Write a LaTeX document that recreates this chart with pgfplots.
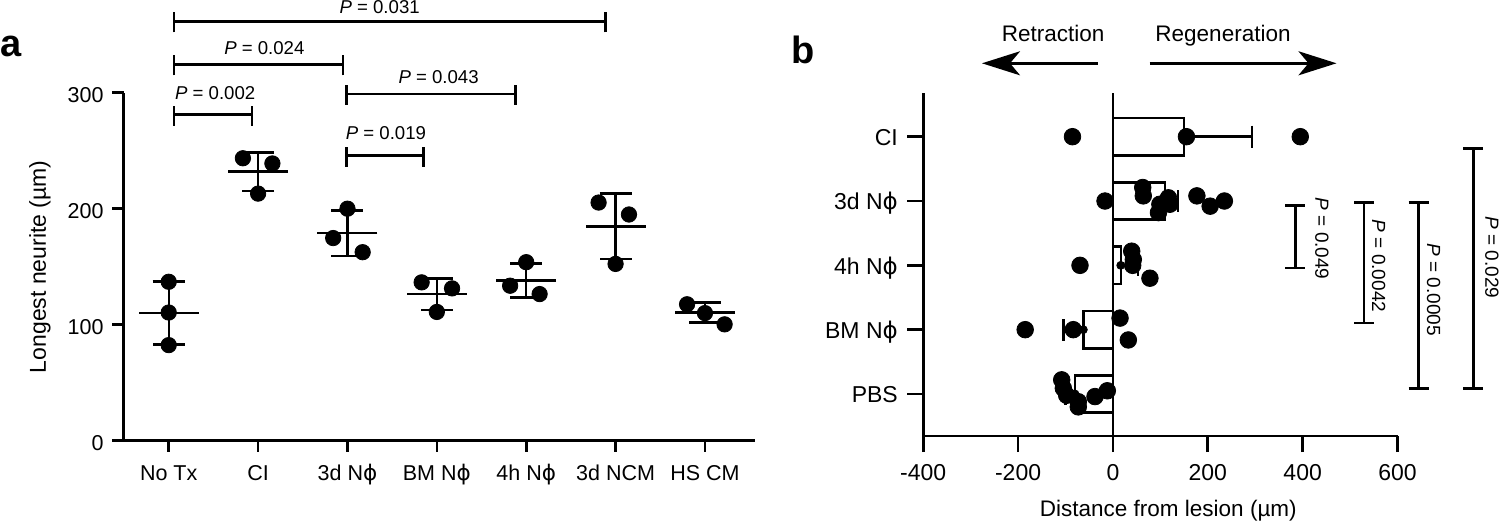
\documentclass[border=0pt]{standalone}
\usepackage{fontspec}
\setmainfont{Liberation Sans}
\newfontfamily\dejavu{DejaVu Sans}
\usepackage{pgfplots}
\pgfplotsset{compat=1.18}
\usetikzlibrary{arrows.meta}
\newcommand{\Nphi}{N{\dejavu ϕ}}
\newcommand{\hbr}[3]{%
  \draw[line width=1.3bp] (axis cs:#1,#3) -- (axis cs:#2,#3);
  \draw[line width=1.3bp] ([yshift=-5.5bp]axis cs:#1,#3) -- ([yshift=4.5bp]axis cs:#1,#3);
  \draw[line width=1.3bp] ([yshift=-5.5bp]axis cs:#2,#3) -- ([yshift=4.5bp]axis cs:#2,#3);}
\newcommand{\vbr}[3]{%
  \draw[line width=1.3bp] (axis cs:#1,#2) -- (axis cs:#1,#3);
  \draw[line width=1.3bp] ([xshift=-5bp]axis cs:#1,#2) -- ([xshift=5bp]axis cs:#1,#2);
  \draw[line width=1.3bp] ([xshift=-5bp]axis cs:#1,#3) -- ([xshift=5bp]axis cs:#1,#3);}
\begin{document}
\begin{tikzpicture}
\path[use as bounding box] (0,0) rectangle (750bp,261bp);
\node[anchor=base west, inner sep=0pt, font=\fontsize{19bp}{21bp}\selectfont\bfseries] at (0bp,232.65bp) {a};
\node[anchor=base west, inner sep=0pt, font=\fontsize{19bp}{21bp}\selectfont\bfseries] at (395.75bp,229.35bp) {b};
% ---------------- panel a
\begin{axis}[
  at={(61.75bp,40.65bp)}, anchor=south west,
  scale only axis, width=315.75bp, height=174bp,
  xmin=-0.506, xmax=6.56, ymin=0, ymax=300,
  axis x line=bottom, axis y line=left,
  axis line style={-, line width=1.3bp},
  tick align=outside, major tick length=5.5bp,
  tick style={line width=1.3bp, black},
  xtick={0,...,6},
  xticklabels={No Tx, CI, 3d \Nphi, BM \Nphi, 4h \Nphi, 3d NCM, HS CM},
  ytick={0,100,200,300}, yticklabels={0,100,200,300},
  every tick label/.append style={font=\fontsize{10.75bp}{12bp}\selectfont},
  xticklabel style={anchor=base, yshift=-14.15bp},
  yticklabel style={anchor=east, inner sep=0pt, xshift=-4.25bp, yshift=-1.5bp, text height=0.72em, text depth=0pt},
  ylabel={Longest neurite (µm)},
  ylabel style={font=\fontsize{11.5bp}{13bp}\selectfont, at={(axis description cs:-0.1322,0.5)}, anchor=center},
  clip=false,
]
\addplot[black, only marks, mark=-, mark size=15bp, mark options={line width=1.3bp},
  error bars/.cd, y dir=both, y explicit,
  error bar style={line width=1.2bp, black},
  error mark=|, error mark options={mark size=8bp, line width=1.3bp, black}]
  coordinates {(0,110) +- (0,27.3) (1,232) +- (0,16.7) (2,179) +- (0,19.7)
               (3,126.4) +- (0,13.6) (4,138) +- (0,14.7) (5,184.7) +- (0,28.2)
               (6,110.5) +- (0,8.7)};
\addplot[black, only marks, mark=*, mark size=3.85bp] coordinates {
  (0,137) (0,110.5) (0,82.4)
  (0.83,243.5) (1.16,239) (1,213)
  (2,200) (1.84,174.7) (2.17,162.5)
  (2.83,136.5) (3.17,131.3) (3,111)
  (4,153.9) (3.82,133.6) (4.15,126.4)
  (4.81,205.3) (5.15,195) (5,152.4)
  (5.8,117.6) (6,110) (6.22,100.3)};
\hbr{0.06}{4.89}{361.4}
\hbr{0.06}{1.95}{324.4}
\hbr{0.06}{0.93}{281}
\hbr{1.99}{3.88}{299}
\hbr{1.99}{2.85}{245.8}
\begin{scope}[every node/.style={anchor=base, inner sep=0pt, font=\fontsize{9.3bp}{11bp}\selectfont}]
\node at (axis cs:2.36,368) {\textit{P} = 0.031};
\node at (axis cs:1.07,333) {\textit{P} = 0.024};
\node at (axis cs:0.52,294) {\textit{P} = 0.002};
\node at (axis cs:3.02,307.6) {\textit{P} = 0.043};
\node at (axis cs:2.43,259.3) {\textit{P} = 0.019};
\end{scope}
\end{axis}
% ---------------- panel b
\begin{axis}[
  at={(461.6bp,43bp)}, anchor=south west,
  scale only axis, width=237.15bp, height=171.65bp,
  xmin=-400, xmax=600, ymin=-0.653, ymax=4.684,
  axis x line=bottom, axis y line=left,
  axis line style={-, line width=1.35bp},
  tick align=outside, major tick length=8bp,
  tick style={line width=1.35bp, black},
  xtick={-400,-200,0,200,400,600}, xticklabels={-400,-200,0,200,400,600},
  ytick={0,...,4}, yticklabels={PBS, BM \Nphi, 4h \Nphi, 3d \Nphi, CI},
  every tick label/.append style={font=\fontsize{11.5bp}{13bp}\selectfont},
  xticklabel style={anchor=base, yshift=-14bp},
  yticklabel style={anchor=east, inner sep=0pt, xshift=-4.5bp, yshift=-0.8bp, text height=0.72em, text depth=0pt},
  xlabel={Distance from lesion (µm)},
  xlabel style={font=\fontsize{11.25bp}{13bp}\selectfont, at={(axis description cs:0.5,0)}, anchor=base, yshift=-40bp, xshift=4bp},
  clip=false,
]
\addplot[xbar, bar shift=0pt, bar width=0.58, fill=white, draw=black, line width=1.2bp]
  coordinates {(150,4) (110,3) (16.5,2) (-62.4,1) (-80,0)};
\addplot[black, line width=1bp] coordinates {(0,-0.653) (0,4.684)};
\addplot[black, only marks, mark=none,
  error bars/.cd, x dir=plus, x explicit,
  error bar style={line width=1.2bp, black},
  error mark=|, error mark options={mark size=5.5bp, line width=1.2bp, black}]
  coordinates {(150,4) +- (143.5,0) (110,3) +- (27,0) (16.5,2) +- (36,0)};
\addplot[black, only marks, mark=none,
  error bars/.cd, x dir=minus, x explicit,
  error bar style={line width=1.2bp, black},
  error mark=|, error mark options={mark size=5.5bp, line width=1.2bp, black}]
  coordinates {(-62.4,1) +- (42.2,0) (-80,0) +- (20,0)};
\addplot[black, only marks, mark=*, mark size=4.15bp] coordinates {
  (-85.3,4) (155,4) (395,4)
  (-16.7,3) (62.8,3.21) (64,3.08) (117,3.05) (120,2.95) (99,2.95) (96,2.82) (177,3.08) (205,2.92) (235,3)
  (-69.4,2) (39.6,2.22) (43,2.09) (41.7,2.0) (78,1.80)
  (-185,1) (-83.5,1) (15,1.18) (32.5,0.84)
  (-108,0.22) (-104.6,0.09) (-97.5,-0.02) (-73,-0.12) (-73,-0.2) (-37.8,-0.04) (-11.8,0.05)};
\vbr{384.6}{2.93}{1.96}
\vbr{529.5}{2.975}{1.104}
\vbr{644.3}{2.975}{0.089}
\vbr{760}{3.82}{0.089}
\begin{scope}[every node/.style={rotate=-90, inner sep=0pt, font=\fontsize{9.5bp}{11bp}\selectfont}]
\node at (axis cs:440.5,2.415) {\textit{P} = 0.049};
\node at (axis cs:560,1.99) {\textit{P} = 0.0042};
\node at (axis cs:676,1.62) {\textit{P} = 0.0005};
\node at (axis cs:799,2.12) {\textit{P} = 0.029};
\end{scope}
\end{axis}
% arrows and direction labels
\node[anchor=base, inner sep=0pt, font=\fontsize{11.25bp}{13bp}\selectfont] at (526.6bp,240.15bp) {Retraction};
\node[anchor=base, inner sep=0pt, font=\fontsize{11.25bp}{13bp}\selectfont] at (611.5bp,240.15bp) {Regeneration};
\draw[line width=1.35bp, -{Stealth[length=19bp, width=12bp, inset=5bp]}] (548.85bp,229.35bp) -- (491bp,229.35bp);
\draw[line width=1.35bp, -{Stealth[length=19bp, width=12bp, inset=5bp]}] (574.8bp,229.35bp) -- (668.25bp,229.35bp);
\end{tikzpicture}
\end{document}
